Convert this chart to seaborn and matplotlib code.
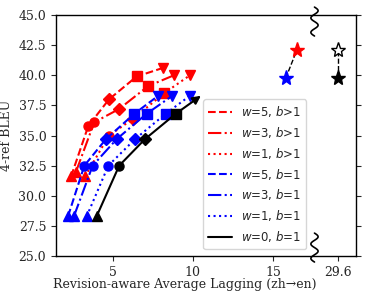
import matplotlib
matplotlib.use("Agg")
import matplotlib.pyplot as plt
import seaborn as sns
import numpy as np
import pandas as pd

# Revision-aware AL (x) and 4-ref BLEU (y); 5 points per curve
red_w5_x = [2.38, 3.46, 4.75, 6.48, 8.10]
red_w5_y = [31.6, 35.8, 38.0, 39.9, 40.6]
red_w3_x = [2.69, 3.83, 5.38, 7.20, 8.81]
red_w3_y = [32.0, 36.1, 37.2, 39.1, 40.0]
red_w1_x = [3.25, 4.75, 6.27, 8.19, 9.81]
red_w1_y = [31.6, 35.0, 36.4, 38.5, 40.0]
blue_w5_x = [2.19, 3.21, 4.56, 6.33, 7.83]
blue_w5_y = [28.3, 32.5, 34.7, 36.8, 38.3]
blue_w3_x = [2.56, 3.73, 5.23, 7.10, 8.71]
blue_w3_y = [28.3, 32.5, 34.7, 36.8, 38.3]
blue_w1_x = [3.36, 4.71, 6.38, 8.29, 9.81]
blue_w1_y = [28.3, 32.5, 34.7, 36.8, 38.3]
black_x = [3.98, 5.39, 7.00, 8.92, 10.5]
black_y = [28.3, 32.5, 34.7, 36.8, 38.3]
point_markers = ["^", "o", "D", "s", "v"]

# stars: blue -> red pair, and full-sentence pair at AL 29.6 (drawn past the break)
star_blue = (15.8, 39.75)
star_red = (16.5, 42.1)
full_al = 29.6
full_al_shown = 19.1
full_bleu_filled = 39.75
full_bleu_hollow = 42.1

xticks = [5, 10, 15, full_al_shown]
xtick_labels = ["5", "10", "15", "29.6"]
yticks = [25.0, 27.5, 30.0, 32.5, 35.0, 37.5, 40.0, 42.5, 45.0]

series = [
    (red_w5_x, red_w5_y, "red", "--", r"$w$=5, $b$>1"),
    (red_w3_x, red_w3_y, "red", "-.", r"$w$=3, $b$>1"),
    (red_w1_x, red_w1_y, "red", ":", r"$w$=1, $b$>1"),
    (blue_w5_x, blue_w5_y, "blue", "--", r"$w$=5, $b$=1"),
    (blue_w3_x, blue_w3_y, "blue", "-.", r"$w$=3, $b$=1"),
    (blue_w1_x, blue_w1_y, "blue", ":", r"$w$=1, $b$=1"),
]

sns.set_style("ticks")
plt.rcParams["font.family"] = "DejaVu Serif"
plt.rcParams["mathtext.fontset"] = "dejavusans"

fig = plt.figure(figsize=(3.76, 3.01), dpi=100)
ax = fig.add_axes([0.149, 0.1495, 0.798, 0.8005])

handles = []
for xs, ys, col, ls, lab in series:
    df = pd.DataFrame({"x": xs, "y": ys})
    sns.lineplot(data=df, x="x", y="y", color=col, linestyle=ls, lw=1.5,
                 sort=False, ax=ax)
    for xi, yi, m in zip(xs, ys, point_markers):
        ax.plot(xi, yi, marker=m, color=col, ms=6.5, ls="none")
    handles.append(plt.Line2D([], [], color=col, ls=ls, lw=1.5, label=lab))

# black curve: last segment drawn as an arrow
df = pd.DataFrame({"x": black_x[:-1], "y": black_y[:-1]})
sns.lineplot(data=df, x="x", y="y", color="black", lw=1.5, sort=False, ax=ax)
for xi, yi, m in zip(black_x[:-1], black_y[:-1], point_markers[:-1]):
    ax.plot(xi, yi, marker=m, color="black", ms=6.5, ls="none")
ax.annotate("", xy=(black_x[-1], black_y[-1]), xytext=(black_x[-2], black_y[-2]),
            arrowprops=dict(arrowstyle="-|>", color="black", lw=1.5,
                            mutation_scale=12, shrinkA=0, shrinkB=0))
handles.append(plt.Line2D([], [], color="black", ls="-", lw=1.5, label=r"$w$=0, $b$=1"))

# stars
ax.plot([star_blue[0], star_red[0]], [star_blue[1], star_red[1]], ls="--", color="black", lw=1)
ax.plot(*star_blue, marker="*", color="blue", ms=11, ls="none")
ax.plot(*star_red, marker="*", color="red", ms=11, ls="none")
ax.plot([full_al_shown, full_al_shown], [full_bleu_filled, full_bleu_hollow],
        ls="--", color="black", lw=1)
ax.plot(full_al_shown, full_bleu_filled, marker="*", color="black", ms=11, ls="none")
ax.plot(full_al_shown, full_bleu_hollow, marker="*", mfc="white", mec="black",
        ms=11, ls="none")

ax.set_xlim(1.44, 20.2)
ax.set_ylim(25, 45)
ax.set_xticks(xticks)
ax.set_xticklabels(xtick_labels)
ax.set_yticks(yticks)
ax.set_yticklabels([f"{v:.1f}" for v in yticks])
ax.tick_params(labelsize=9, right=True, labelright=False, direction="out")
for s in ax.spines.values():
    s.set_visible(True)
    s.set_color("black")
    s.set_linewidth(1.0)
ax.set_xlabel("Revision-aware Average Lagging (zh→en)", fontsize=9)
ax.xaxis.set_label_coords(0.43, -0.09)
ax.set_ylabel("4-ref BLEU", fontsize=9)

# axis break marks
bx = (17.6 - 1.44) / (20.2 - 1.44)
t = np.linspace(0, 4 * np.pi, 80)
for y0, y1 in [(1.033, 0.913), (0.095, -0.025)]:
    yy = np.linspace(y0, y1, 80)
    xx = bx + 0.012 * np.sin(t)
    ax.plot(xx, yy, color="black", lw=1.2, transform=ax.transAxes, clip_on=False)

leg = ax.legend(handles=handles, loc="lower right", bbox_to_anchor=(0.833, 0.029),
                borderaxespad=0, prop={"family": "DejaVu Sans", "size": 8.5},
                handlelength=2.0)

fig.savefig("out.png", dpi=100)
